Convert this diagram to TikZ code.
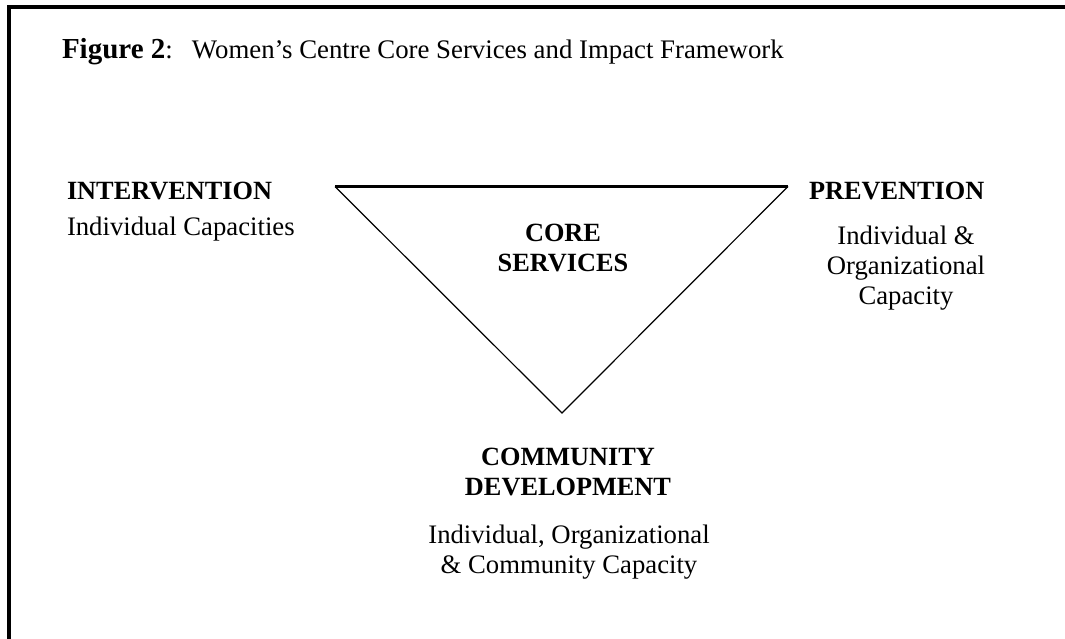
\documentclass[tikz,border=0pt]{standalone}
\usepackage{fontspec}
\setmainfont{Liberation Serif}
\begin{document}
\begin{tikzpicture}[x=1pt,y=-1pt,
  txt/.style={inner sep=0pt,outer sep=0pt,font=\fontsize{26.7}{30}\selectfont},
  hd/.style={inner sep=0pt,outer sep=0pt,font=\fontsize{26.3}{30}\selectfont\bfseries},
  frameline/.style={line width=4pt,line cap=rect},
  topedge/.style={line width=2.2pt},
  sideedge/.style={line width=1.2pt,line join=miter}]
\useasboundingbox (0,0) rectangle (1065,638);
% frame (top and left only)
\coordinate (fb) at (9,640);
\coordinate (fc) at (9,7);
\coordinate (fr) at (1067,7);
\draw[frameline] (fb) -- (fc) -- (fr);
% title
\node[txt,anchor=base west,font=\fontsize{26.8}{30}\selectfont] (title) at (62,58) {\makebox[130pt][l]{{\fontsize{29}{30}\selectfont\bfseries Figure 2}:}Women’s Centre Core Services and Impact Framework};
% triangle
\coordinate (tl) at (335,186.5);
\coordinate (tr) at (788,186.5);
\coordinate (ap) at (562,413);
\draw[sideedge] (tl) -- (ap) -- (tr);
\draw[topedge] (tl) -- (tr);
% labels (multi-line nodes: base = last line's baseline)
\node[hd,anchor=base,align=center] (core) at (563,271) {CORE\\SERVICES};
\node[hd,anchor=base west] (inter) at (67,199) {INTERVENTION};
\node[txt,anchor=base west] (interc) at (67,235) {Individual Capacities};
\node[hd,anchor=base west] (prev) at (809,199) {PREVENTION};
\node[txt,anchor=base,align=center] (prevc) at (906,304) {Individual \&\\Organizational\\Capacity};
\node[hd,anchor=base,align=center] (comm) at (568,495) {COMMUNITY\\DEVELOPMENT};
\node[txt,anchor=base,align=center] (commc) at (569,573) {Individual, Organizational\\\& Community Capacity};
\end{tikzpicture}
\end{document}
